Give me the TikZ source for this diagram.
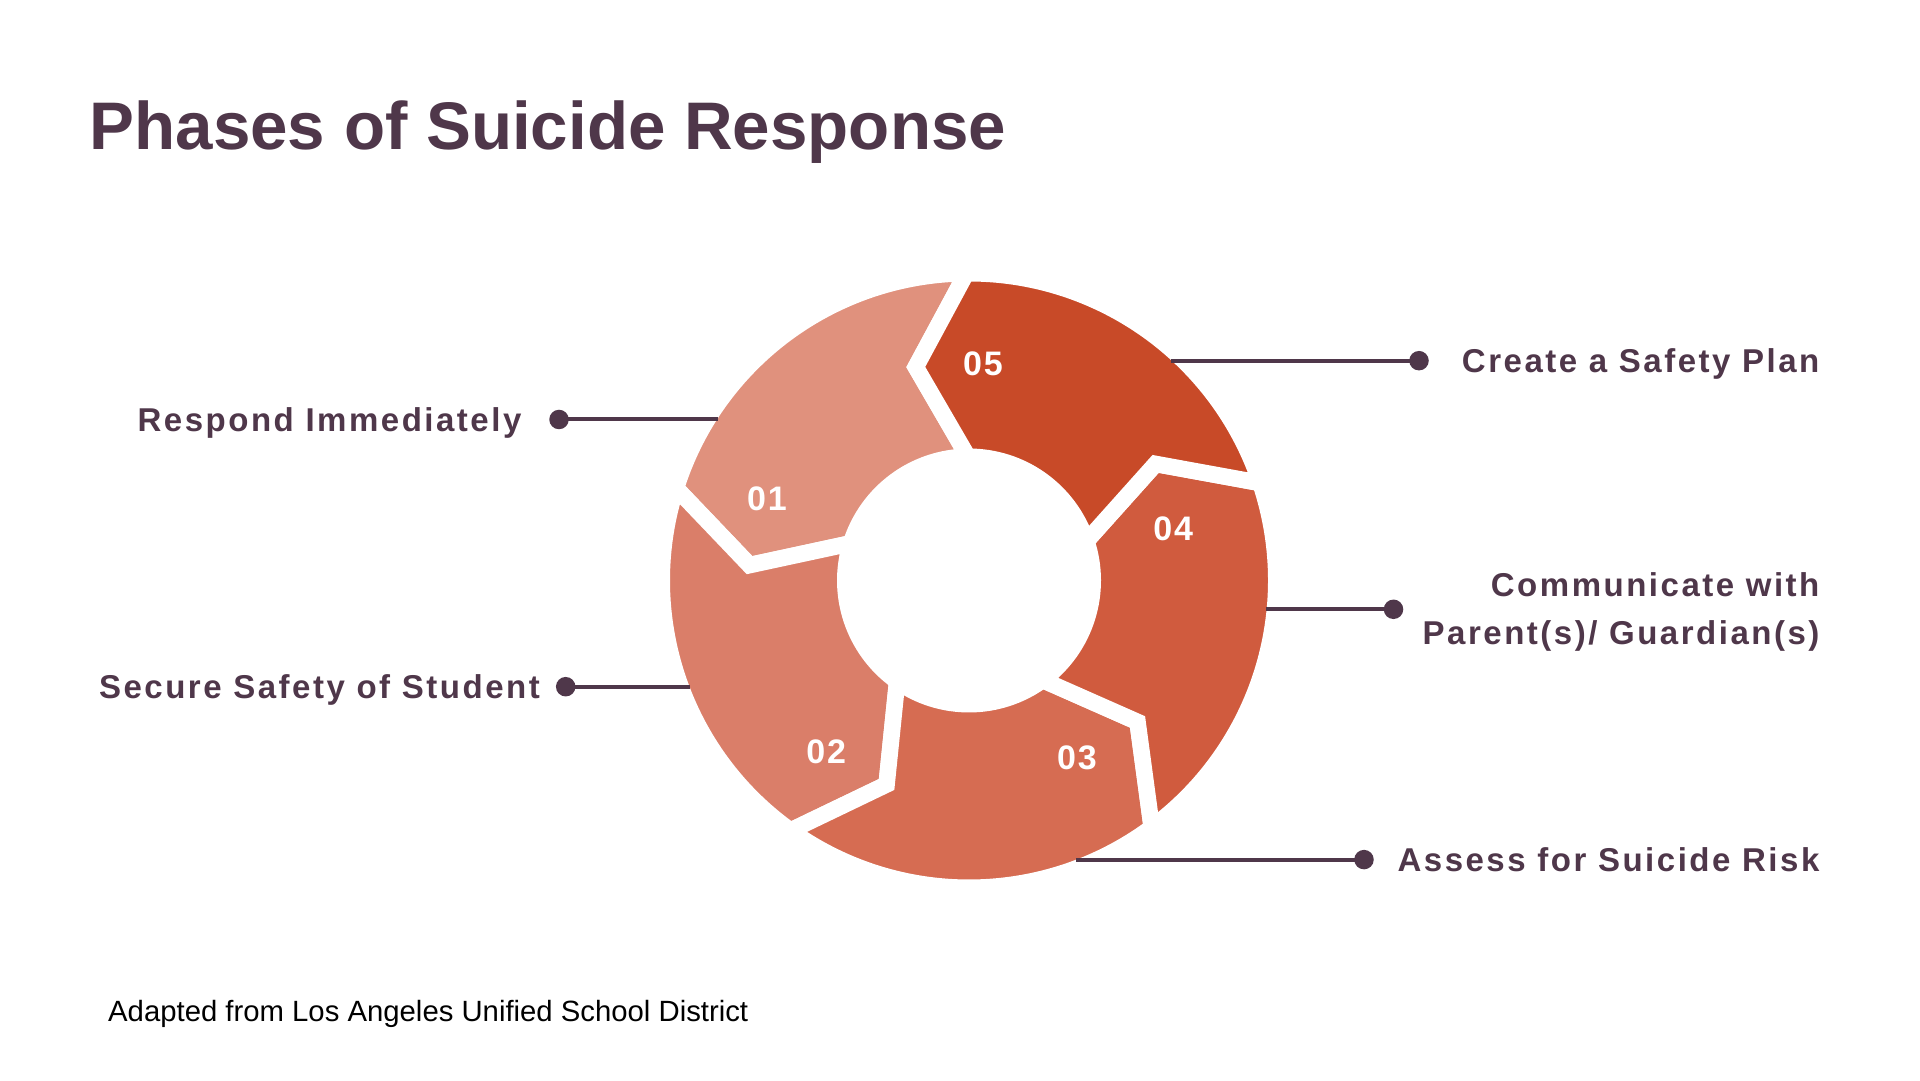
\documentclass[tikz,border=0pt]{standalone}
\usepackage{fontspec}
\setmainfont{Liberation Sans}
\definecolor{ink}{RGB}{79,55,74}
\definecolor{segA}{RGB}{224,145,125}
\definecolor{segB}{RGB}{218,126,105}
\definecolor{segC}{RGB}{214,108,82}
\definecolor{segD}{RGB}{208,91,62}
\definecolor{segE}{RGB}{200,74,40}
\def\cx{969}
\def\cy{499.5}
\def\Ro{307.25}
\def\Ri{123.75}
\def\Rv{220}
\def\Off{13.5}
\newcommand\ringseg[2]{%
  \pgfmathsetmacro\angA{#1}%
  \pgfmathsetmacro\angB{#1+72}%
  \pgfmathsetmacro\angAv{#1+\Off}%
  \pgfmathsetmacro\angBv{#1+72+\Off}%
  \filldraw[segment, fill=#2] ({\cx+\Ro*cos(\angA)},{\cy+\Ro*sin(\angA)})
    arc[start angle=\angA, end angle=\angB, radius=\Ro]
    -- ({\cx+\Rv*cos(\angBv)},{\cy+\Rv*sin(\angBv)})
    -- ({\cx+\Ri*cos(\angB)},{\cy+\Ri*sin(\angB)})
    arc[start angle=\angB, end angle=\angA, radius=\Ri]
    -- ({\cx+\Rv*cos(\angAv)},{\cy+\Rv*sin(\angAv)}) -- cycle;
}
\tikzset{
  segment/.style={draw=white, line width=16.5pt, line join=miter},
  num/.style={text=white, font=\fontsize{34}{40}\selectfont\bfseries\addfontfeature{LetterSpace=6}, inner sep=0pt},
  lab/.style={text=ink, font=\fontsize{33}{40}\selectfont\bfseries\addfontfeature{LetterSpace=7.6}, inner sep=0pt},
  dotnode/.style={circle, fill=ink, minimum size=19.5pt, inner sep=0pt},
  conn/.style={draw=ink, line width=4pt},
}
\begin{document}
\begin{tikzpicture}[x=1pt,y=1pt]
\useasboundingbox (0,0) rectangle (1920,1080);
\fill[white] (0,0) rectangle (1920,1080);

% ring segments
\ringseg{90.5}{segA}
\ringseg{162.5}{segB}
\ringseg{234.5}{segC}
\ringseg{306.5}{segD}
\ringseg{18.5}{segE}

% numbers
\node[num] (n1) at (767,581.2) {01};
\node[num] (n2) at (826.2,328.2) {02};
\node[num] (n3) at (1077,322) {03};
\node[num] (n4) at (1173.2,551.4) {04};
\node[num] (n5) at (983,716) {05};

% connector ends on ring
\coordinate (e1) at (717.5,660.5);
\coordinate (e2) at (690,393.3);
\coordinate (e3) at (1171.2,719.3);
\coordinate (e4) at (1266.1,470.7);
\coordinate (e5) at (1075.8,220.4);

% dots
\node[dotnode] (d1) at (559,660.5) {};
\node[dotnode] (d2) at (565.7,393.3) {};
\node[dotnode] (d3) at (1419,719.3) {};
\node[dotnode] (d4) at (1393.5,470.7) {};
\node[dotnode] (d5) at (1364,220.4) {};

\draw[conn] (d1.center) -- (e1);
\draw[conn] (d2.center) -- (e2);
\draw[conn] (d3.center) -- (e3);
\draw[conn] (d4.center) -- (e4);
\draw[conn] (d5.center) -- (e5);

% labels
\node[lab, anchor=base east] (l1) at (521.6,648.3) {Respond Immediately};
\node[lab, anchor=base east] (l2) at (540,381.7) {Secure Safety of Student};
\node[lab, anchor=base east] (l3) at (1819.6,707) {Create a Safety Plan};
\node[lab, anchor=base east] (l4a) at (1819.6,483) {Communicate with};
\node[lab, anchor=base east] (l4b) at (1819.6,435) {Parent(s)/ Guardian(s)};
\node[lab, anchor=base east] (l5) at (1819.6,208.4) {Assess for Suicide Risk};

% title and footer
\node[anchor=base west, inner sep=0pt, text=ink, font=\fontsize{67.3}{80}\selectfont\bfseries] (title) at (89.5,930) {Phases of Suicide Response};
\node[anchor=base west, inner sep=0pt, text=black, font=\fontsize{29.3}{35}\selectfont] (foot) at (108,58.3) {Adapted from Los Angeles Unified School District};
\end{tikzpicture}
\end{document}
